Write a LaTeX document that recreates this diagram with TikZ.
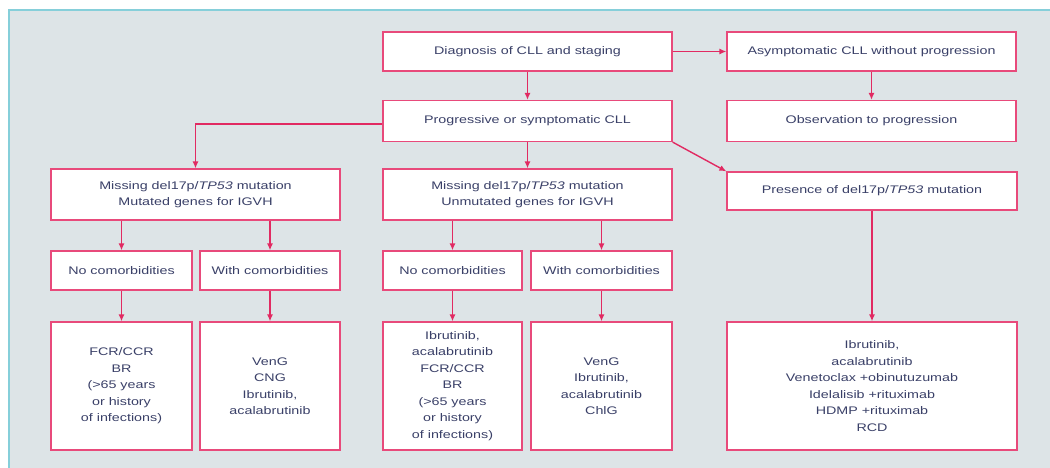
\documentclass[tikz,border=0pt]{standalone}
\usepackage{fontspec}
\setmainfont{Liberation Sans}[FakeStretch=1.3]
\usetikzlibrary{arrows.meta}
\definecolor{boxred}{HTML}{E84A7B}
\definecolor{arrred}{HTML}{E12A62}
\definecolor{txt}{HTML}{3A4068}
\definecolor{panel}{HTML}{DDE4E7}
\definecolor{rim}{HTML}{86CFDA}
\begin{document}
\begin{tikzpicture}[x=1pt, y=-1pt, >={Latex[length=7pt,width=6pt]},
	b/.style={draw=boxred, fill=white, line width=1.2pt, align=center, text=txt,
		font=\fontsize{11}{16.5}\selectfont, inner sep=2pt, minimum height=39pt},
	a/.style={->, draw=arrred, line width=1.4pt}]
	\useasboundingbox (0,0) rectangle (1050,468);
	\fill[panel] (9,10) rectangle (1050,468);
	\draw[rim, line width=2pt] (1050,10) -- (9,10) -- (9,468);
	% top rows
	\node[b, minimum width=289pt] (diag) at (527.5,51.5) {Diagnosis of CLL and staging};
	\node[b, minimum width=289pt] (asym) at (871.5,51.5) {Asymptomatic CLL without progression};
	\node[b, minimum width=289pt, minimum height=41pt] (prog) at (527.5,121) {Progressive or symptomatic CLL};
	\node[b, minimum width=289pt, minimum height=41pt] (obs) at (871.5,121) {Observation to progression};
	% genetic groups
	\node[b, minimum width=289pt, minimum height=51pt] (mis1) at (195.5,194.5) {Missing del17p/\textit{TP53} mutation\\Mutated genes for IGVH};
	\node[b, minimum width=289pt, minimum height=51pt] (mis2) at (527.5,194.5) {Missing del17p/\textit{TP53} mutation\\Unmutated genes for IGVH};
	\node[b, minimum width=290pt, minimum height=38pt] (pres) at (872,191) {Presence of del17p/\textit{TP53} mutation};
	% comorbidities
	\node[b, minimum width=141pt] (no1) at (121.5,270.5) {No comorbidities};
	\node[b, minimum width=140pt] (with1) at (270,270.5) {With comorbidities};
	\node[b, minimum width=139pt] (no2) at (452.5,270.5) {No comorbidities};
	\node[b, minimum width=141pt] (with2) at (601.5,270.5) {With comorbidities};
	% treatments
	\node[b, minimum width=141pt, minimum height=128pt] (t1) at (121.5,386) {FCR/CCR\\BR\\(>65 years\\or history\\of infections)};
	\node[b, minimum width=140pt, minimum height=128pt] (t2) at (270,386) {VenG\\CNG\\Ibrutinib,\\acalabrutinib};
	\node[b, minimum width=139pt, minimum height=128pt] (t3) at (452.5,386) {Ibrutinib,\\acalabrutinib\\FCR/CCR\\BR\\(>65 years\\or history\\of infections)};
	\node[b, minimum width=141pt, minimum height=128pt] (t4) at (601.5,386) {VenG\\Ibrutinib,\\acalabrutinib\\ChlG};
	\node[b, minimum width=290pt, minimum height=128pt] (t5) at (872,386) {Ibrutinib,\\acalabrutinib\\Venetoclax +obinutuzumab\\Idelalisib +rituximab\\HDMP +rituximab\\RCD};
	% connectors
	\draw[a] (diag) -- (asym);
	\draw[a] (diag) -- (prog);
	\draw[a] (asym) -- (obs);
	\draw[a] ([yshift=-3pt]prog.west) -| (mis1.north);
	\draw[a] (prog) -- (mis2);
	\draw[a] (prog.south east) -- (pres.north west);
	\draw[a] (pres) -- (t5);
	\foreach \u/\v in {mis1/no1, mis1/with1, mis2/no2, mis2/with2}
		\draw[a] (\v.north |- \u.south) -- (\v.north);
	\foreach \u/\v in {no1/t1, with1/t2, no2/t3, with2/t4}
		\draw[a] (\u) -- (\v);
\end{tikzpicture}
\end{document}
